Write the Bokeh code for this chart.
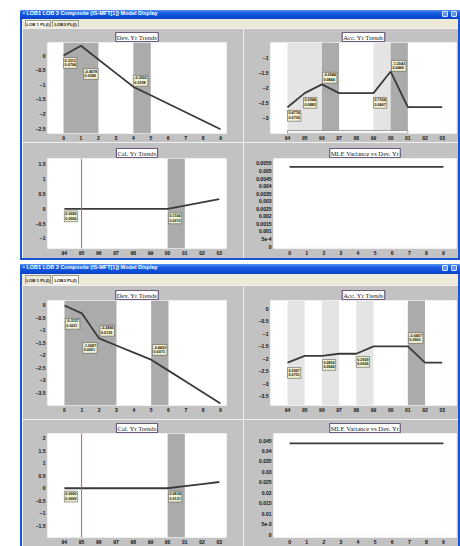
from bokeh.plotting import figure
from bokeh.layouts import column, row
from bokeh.models import Div, Spacer, BoxAnnotation, Label, FixedTicker, Range1d, Span
from bokeh.embed import file_html
from bokeh.resources import INLINE

# ---------------------------------------------------------------- data
dev_index = [0, 1, 2, 3, 4, 5, 6, 7, 8, 9]
dev_labels = ["0", "1", "2", "3", "4", "5", "6", "7", "8", "9"]
year_labels = ["94", "95", "96", "97", "98", "99", "00", "01", "02", "03"]

# LOB 1 PL(I)
lob1_dev = [0.0, 0.3312, -0.1366, -0.6044, -1.0722, -1.3624, -1.6526, -1.9428, -2.2330, -2.5232]
lob1_acc = [-2.6500, -2.1726, -1.8782, -2.1726, -2.1726, -2.1726, -1.4422, -2.6465, -2.6465, -2.6465]
lob1_cal = [0.0, 0.0, 0.0, 0.0, 0.0, 0.0, 0.0, 0.1104, 0.2208, 0.3312]
lob1_mle = [0.00527, 0.00527, 0.00527, 0.00527, 0.00527, 0.00527, 0.00527, 0.00527, 0.00527, 0.00527]

lob1_dev_tags = ["0.3312\n0.0794", "-0.4678\n0.0308", "-0.2902\n0.0198"]
lob1_acc_tags = ["0.4774\n0.0730", "0.2944\n0.0883", "-0.2944\n0.0844", "0.7304\n0.0467", "-1.2043\n0.0466"]
lob1_cal_tags = ["0.0000\n0.0000", "0.1104\n0.0215"]

# LOB3 PL(I)
lob3_dev = [0.0, -0.3157, -1.3244, -1.6090, -1.8936, -2.1782, -2.6185, -3.0588, -3.4991, -3.9394]
lob3_acc = [-2.1500, -1.8833, -1.8833, -1.7997, -1.7997, -1.5068, -1.5068, -1.5068, -2.1525, -2.1525]
lob3_cal = [0.0, 0.0, 0.0, 0.0, 0.0, 0.0, 0.0, 0.0834, 0.1668, 0.2502]
lob3_mle = [0.0437, 0.0437, 0.0437, 0.0437, 0.0437, 0.0437, 0.0437, 0.0437, 0.0437, 0.0437]

lob3_dev_tags = ["-0.3157\n0.0011", "-0.2846\n0.0135", "-1.0087\n0.0091", "-0.4403\n0.0073"]
lob3_acc_tags = ["0.2667\n0.0751", "0.0836\n0.0546", "0.2929\n0.0626", "-0.6457\n0.0903"]
lob3_cal_tags = ["0.0000\n0.0000", "0.0834\n0.0121"]

mle1_ticks = [0, 0.0005, 0.001, 0.0015, 0.002, 0.0025, 0.003, 0.0035, 0.004, 0.0045, 0.005, 0.0055]
mle1_tick_text = ["0", "5e-4", "0.001", "0.0015", "0.002", "0.0025", "0.003", "0.0035", "0.004", "0.0045", "0.005", "0.0055"]
mle3_ticks = [0, 0.005, 0.01, 0.015, 0.02, 0.025, 0.03, 0.035, 0.04, 0.045]
mle3_tick_text = ["0", "5e-3", "0.01", "0.015", "0.02", "0.025", "0.03", "0.035", "0.04", "0.045"]

# ---------------------------------------------------------------- styling
PANEL = "#c2c2c2"
DARK_BAND = "#ababab"
LIGHT_BAND = "#e4e4e4"
LINE = "#3a3a3a"
TAG_BG = "#f1f1cf"
WIN_BLUE = "#1a55d6"
RED = "#f04848"
FONT = "Liberation Sans"


def panel(title, width, height, borders, xr, yr, yticks, ytext=None, xtext=None):
    left, right, top, bottom = borders
    p = figure(width=width, height=height, x_range=Range1d(*xr), y_range=Range1d(*yr),
               output_backend="svg", toolbar_location=None,
               min_border_left=left, min_border_right=right,
               min_border_top=top, min_border_bottom=bottom,
               background_fill_color="white", border_fill_color=PANEL,
               outline_line_color=None, margin=0)
    p.xgrid.visible = False
    p.ygrid.visible = False
    for ax in (p.xaxis[0], p.yaxis[0]):
        ax.axis_line_color = None
        ax.major_tick_line_color = None
        ax.minor_tick_line_color = None
        ax.major_tick_out = 0
        ax.major_tick_in = 0
        ax.major_label_text_font = FONT
        ax.major_label_text_font_size = "5px"
        ax.major_label_text_font_style = "bold"
        ax.major_label_text_color = "#111111"
        ax.major_label_standoff = 2
    p.xaxis.ticker = FixedTicker(ticks=dev_index)
    p.xaxis.major_label_overrides = {i: s for i, s in zip(dev_index, xtext or dev_labels)}
    p.yaxis.ticker = FixedTicker(ticks=yticks)
    if ytext:
        p.yaxis.major_label_overrides = {t: s for t, s in zip(yticks, ytext)}
    p.title.text = title
    p.title.align = "center"
    p.title.text_font = "Liberation Serif"
    p.title.text_font_size = "6.6px"
    p.title.text_font_style = "normal"
    p.title.text_color = "#222222"
    p.title.background_fill_color = "white"
    p.title.border_line_color = "#6b5a7c"
    p.title.border_line_width = 1.2
    p.title.padding = 1
    p.title.standoff = 2
    p.title.offset = 0
    return p


def bands(p, spans, color):
    for a, b in spans:
        p.add_layout(BoxAnnotation(left=a, right=b, fill_color=color, fill_alpha=1,
                                   line_color=None, level="underlay"))


def tags(p, texts, xs, ys):
    for t, x, y in zip(texts, xs, ys):
        p.add_layout(Label(x=x, y=y, text=t, text_font=FONT, text_font_size="3.7px",
                           text_font_style="bold", text_align="left", text_baseline="top",
                           text_color="#111111", background_fill_color=TAG_BG,
                           border_line_color="#5a5a5a", border_line_width=0.6, padding=1))


def trend(p, vals):
    p.line(dev_index, vals, line_color=LINE, line_width=1.8)


def red_marker(p):
    p.add_layout(Span(location=1, dimension="height", line_color=RED, line_width=1))


# ---------------------------------------------------------------- LOB 1 panels
d1 = panel("Dev. Yr Trends", 221, 114, (25, 17, 14, 9), (-0.92, 9.34), (-2.67, 0.445),
           [0, -0.5, -1, -1.5, -2, -2.5])
bands(d1, [(0, 2), (4, 5)], DARK_BAND)
trend(d1, lob1_dev)
tags(d1, lob1_dev_tags, [0.0, 1.15, 4.0], [-0.07, -0.45, -0.68])

a1 = panel("Acc. Yr Trends", 215, 114, (27, 2, 14, 9), (-0.99, 9.83), (-3.54, -0.46),
           [-1, -1.5, -2, -2.5, -3], xtext=year_labels)
bands(a1, [(0, 2), (5, 6)], LIGHT_BAND)
bands(a1, [(2, 3), (6, 7)], DARK_BAND)
# period selector strip along the bottom of the accident-year frame
a1.quad(left=0, right=7, bottom=-3.535, top=-3.44, fill_color="white",
        line_color="#8a8a8a", line_width=0.8)
trend(a1, lob1_acc)
tags(a1, lob1_acc_tags, [0.0, 0.93, 2.03, 5.0, 6.05], [-2.76, -2.32, -1.47, -2.32, -1.07])

c1 = panel("Cal. Yr Trends", 221, 116, (25, 17, 16, 10), (-0.98, 9.42), (-1.34, 1.70),
           [1.5, 1, 0.5, 0, -0.5, -1], xtext=year_labels)
bands(c1, [(6, 7)], DARK_BAND)
red_marker(c1)
trend(c1, lob1_cal)
tags(c1, lob1_cal_tags, [0.0, 6.05], [-0.07, -0.14])

m1 = panel("MLE Variance vs Dev. Yr", 215, 116, (30, 2, 16, 10), (-0.94, 9.76), (-0.00013, 0.00583),
           mle1_ticks, ytext=mle1_tick_text)
m1.line(dev_index, [0] * 10, line_color="#e2e2e2", line_width=0.8, line_dash="1 2")
trend(m1, lob1_mle)

# ---------------------------------------------------------------- LOB3 panels
d3 = panel("Dev. Yr Trends", 221, 134, (25, 17, 15, 14), (-0.98, 9.35), (-4.02, 0.2),
           [0, -0.5, -1, -1.5, -2, -2.5, -3, -3.5])
bands(d3, [(0, 3), (5, 6)], DARK_BAND)
trend(d3, lob3_dev)
tags(d3, lob3_dev_tags, [0.05, 2.05, 1.05, 5.08], [-0.52, -0.8, -1.49, -1.57])

a3 = panel("Acc. Yr Trends", 215, 134, (27, 2, 15, 14), (-0.99, 9.83), (-3.86, 0.32),
           [0, -0.5, -1, -1.5, -2, -2.5, -3, -3.5], xtext=year_labels)
bands(a3, [(0, 1), (2, 3), (4, 5)], LIGHT_BAND)
bands(a3, [(7, 8)], DARK_BAND)
trend(a3, lob3_acc)
tags(a3, lob3_acc_tags, [0.0, 2.03, 4.0, 7.03], [-2.35, -2.03, -1.91, -0.96])

c3 = panel("Cal. Yr Trends", 221, 127, (25, 17, 14, 9), (-0.98, 9.42), (-1.98, 2.2),
           [2, 1.5, 1, 0.5, 0, -0.5, -1, -1.5], xtext=year_labels)
bands(c3, [(6, 7)], DARK_BAND)
red_marker(c3)
trend(c3, lob3_cal)
tags(c3, lob3_cal_tags, [0.0, 6.05], [-0.12, -0.12])

m3 = panel("MLE Variance vs Dev. Yr", 215, 127, (30, 2, 14, 9), (-0.94, 9.76), (-0.0014, 0.0484),
           mle3_ticks, ytext=mle3_tick_text)
m3.line(dev_index, [0] * 10, line_color="#e2e2e2", line_width=0.8, line_dash="1 2")
trend(m3, lob3_mle)


# ---------------------------------------------------------------- window chrome
def block(w, h, color):
    return Spacer(width=w, height=h, margin=0, styles={"background-color": color})


def title_bar(h):
    html = (
        f'<div style="position:absolute;left:0;top:0;width:440px;height:{h}px;overflow:hidden;'
        'background:linear-gradient(180deg,#5a96f5 0%,#1c5fe2 30%,#0b4cd6 75%,#0a43c4 100%);">'
        f'<span style="position:absolute;left:3px;top:0;line-height:{h}px;color:#fff;'
        f"font:bold 5.5px '{FONT}';white-space:nowrap;\">&#9642; LOB1 LOB 3 Composite (IS-MFT[1]) Model Display</span>"
        '<span style="position:absolute;right:12px;top:1px;width:6px;height:6px;'
        'background:#5f93f0;border:0.5px solid #d8e6ff;border-radius:1px;"></span>'
        '<span style="position:absolute;right:3px;top:1px;width:6px;height:6px;'
        'background:#5f93f0;border:0.5px solid #d8e6ff;border-radius:1px;"></span>'
        '</div>'
    )
    return Div(text=html, width=440, height=h, margin=0,
               styles={"overflow": "hidden", "font-size": "0", "line-height": "0"})


def tab_row(h, active):
    names = ["LOB 1 PL(I)", "LOB3 PL(I)"]
    lefts = [3, 30]
    widths = [26, 27]
    parts = []
    for i, (n, l, w) in enumerate(zip(names, lefts, widths)):
        bg = "#fbfbf8" if i == active else "#ece9d8"
        parts.append(
            f'<span style="position:absolute;left:{l}px;top:1px;width:{w}px;height:{h - 2}px;'
            f'background:{bg};border:0.5px solid #9c9a8c;border-bottom:none;'
            f"font:bold 4.3px '{FONT}';color:#222;line-height:{h - 2}px;text-align:center;"
            f'white-space:nowrap;">{n}</span>')
    html = (
        f'<div style="position:absolute;left:0;top:0;width:440px;height:{h}px;overflow:hidden;'
        'background:#ece9d8;border-left:2px solid ' + WIN_BLUE + ';border-right:2px solid ' + WIN_BLUE + ';'
        'box-sizing:border-box;">' + "".join(parts) + '</div>'
    )
    return Div(text=html, width=440, height=h, margin=0,
               styles={"overflow": "hidden", "font-size": "0", "line-height": "0"})


def window(top, bottom, top_h, bottom_h, bar_h, tab_h, active, closed):
    body = column(row(top[0], top[1], spacing=0, margin=0),
                  row(bottom[0], bottom[1], spacing=0, margin=0), spacing=0, margin=0)
    inner = row(block(2, top_h + bottom_h, WIN_BLUE), body, block(2, top_h + bottom_h, WIN_BLUE),
                spacing=0, margin=0)
    kids = [title_bar(bar_h), tab_row(tab_h, active), inner]
    if closed:
        kids.append(block(440, 2, WIN_BLUE))
    return column(*kids, spacing=0, margin=0)


win1 = window((d1, a1), (c1, m1), 114, 116, 9, 9, 0, True)
win3 = window((d3, a3), (c3, m3), 134, 127, 10, 11, 1, False)

page = column(
    block(460, 10, "white"),
    row(block(20, 250, "white"), win1, spacing=0, margin=0),
    block(460, 4, "white"),
    row(block(20, 282, "white"), win3, spacing=0, margin=0),
    spacing=0, margin=0, width=460, height=546, styles={"background-color": "white"},
)

open("out.html", "w").write(file_html(page, INLINE))
